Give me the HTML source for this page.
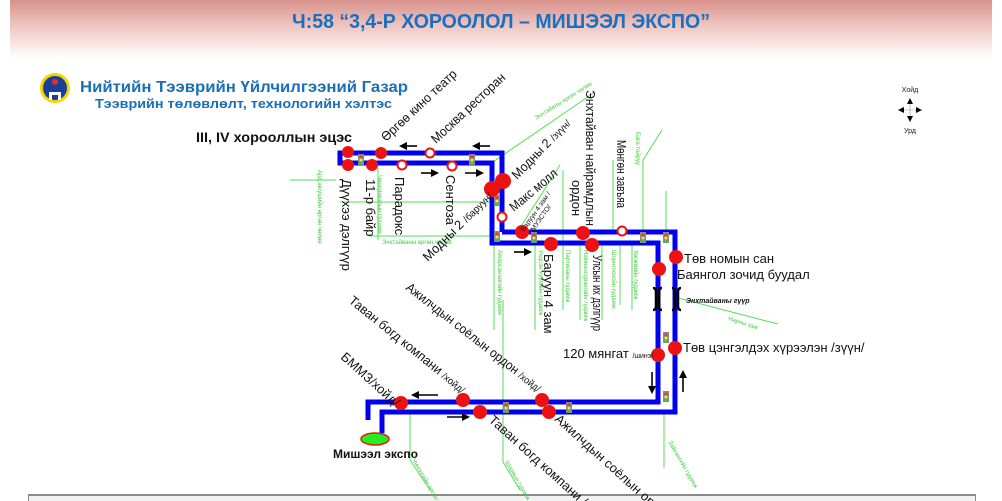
<!DOCTYPE html>
<html><head><meta charset="utf-8"><style>
html,body{margin:0;padding:0;background:#fff;}
svg{display:block;}
text{font-family:"Liberation Sans","DejaVu Sans",sans-serif;}
</style></head><body>
<svg width="1002" height="501" viewBox="0 0 1002 501" xmlns="http://www.w3.org/2000/svg">
<defs>
<linearGradient id="hg" x1="0" y1="0" x2="0" y2="1">
<stop offset="0" stop-color="#d8928c"/><stop offset="0.45" stop-color="#eec6c2"/><stop offset="1" stop-color="#ffffff"/>
</linearGradient>
<marker id="ah" markerWidth="8" markerHeight="8" refX="6" refY="4" orient="auto" markerUnits="userSpaceOnUse"><path d="M0,0 L8,4 L0,8 z" fill="#000"/></marker>
</defs>
<rect x="10" y="0" width="982" height="58" fill="url(#hg)"/>
<text x="501" y="28" text-anchor="middle" font-size="20" font-weight="bold" fill="#1a6fc0" textLength="418" lengthAdjust="spacingAndGlyphs">Ч:58 “3,4-Р ХОРООЛОЛ – МИШЭЭЛ ЭКСПО”</text>
<rect x="28" y="494" width="948" height="7" fill="#8a8a8a"/>
<rect x="29" y="496" width="946" height="5" fill="#f2f2f2"/>

<circle cx="55" cy="88" r="15" fill="#f4d400"/>
<circle cx="55" cy="88" r="12" fill="#1a3f9a"/>
<path d="M49,92 h12 v8 h-3 v-5 h-6 v5 h-3z" fill="#fff"/>
<circle cx="55" cy="82" r="3" fill="#e03030"/>
<text x="80" y="92" font-size="15.5" font-weight="bold" fill="#1a6fb5" textLength="328" lengthAdjust="spacingAndGlyphs">Нийтийн Тээврийн Үйлчилгээний Газар</text>
<text x="95" y="108" font-size="13" font-weight="bold" fill="#1a6fb5" textLength="297" lengthAdjust="spacingAndGlyphs">Тээврийн төлөвлөлт, технологийн хэлтэс</text>
<text x="196" y="142" font-size="14" font-weight="bold" fill="#111" textLength="156" lengthAdjust="spacingAndGlyphs">III, IV хорооллын эцэс</text>

<text x="910" y="92" font-size="7" text-anchor="middle" fill="#222">Хойд</text>
<text x="910" y="133" font-size="7" text-anchor="middle" fill="#222">Урд</text>
<line x1="910" y1="98" x2="910" y2="122" stroke="#999" stroke-width="0.6"/>
<line x1="898" y1="110" x2="922" y2="110" stroke="#999" stroke-width="0.6"/>
<path d="M910,98 l-3,6 h6z M910,122 l-3,-6 h6z M898,110 l6,-3 v6z M922,110 l-6,-3 v6z" fill="#000"/>

<g stroke="#55dd55" stroke-width="1" fill="none">
<line x1="290" y1="180" x2="336" y2="180"/>
<line x1="378" y1="168" x2="378" y2="240"/>
<line x1="340" y1="202" x2="492" y2="202"/>
<line x1="370" y1="236" x2="492" y2="236"/>
<line x1="490" y1="164" x2="595" y2="92"/>
<line x1="494" y1="245" x2="494" y2="330"/>
<line x1="535" y1="245" x2="535" y2="330"/>
<line x1="520" y1="228" x2="560" y2="165"/>
<line x1="563" y1="170" x2="563" y2="310"/>
<line x1="580" y1="245" x2="580" y2="320"/>
<line x1="602" y1="245" x2="602" y2="320"/>
<line x1="613" y1="160" x2="613" y2="232"/>
<line x1="620" y1="245" x2="620" y2="305"/>
<line x1="643" y1="160" x2="643" y2="232"/>
<line x1="643" y1="160" x2="662" y2="130"/>
<line x1="632" y1="245" x2="632" y2="310"/>
<line x1="666" y1="191" x2="666" y2="232"/>
<line x1="678" y1="298" x2="778" y2="324"/>
<line x1="410" y1="413" x2="410" y2="460"/>
<line x1="410" y1="460" x2="430" y2="490"/>
<line x1="503" y1="300" x2="503" y2="462"/>
<line x1="503" y1="462" x2="520" y2="490"/>
<line x1="664" y1="413" x2="664" y2="468"/>
</g>
<g font-size="6" fill="#44cc44">
<text transform="translate(318,170) rotate(90)">Ард аюушийн өргөн чөлөө</text>
<text transform="translate(378,175) rotate(90)">Чингүнжавын гудамж</text>
<text x="382" y="244">Энхтайваны өргөн чөлөө</text>
<text transform="translate(536,120) rotate(-32)">Энхтайвны өргөн чөлөө</text>
<text transform="translate(498,250) rotate(90)">Амарсанаагийн гудамж</text>
<text transform="translate(539,250) rotate(90)">Үндсэн хуулийн гудамж</text>
<text transform="translate(566,250) rotate(90)">Партизаны гудамж</text>
<text transform="translate(584,250) rotate(90)">Намнансүрэнгийн гудамж</text>
<text transform="translate(612,250) rotate(90)">Шорнгоохойн гудамж</text>
<text transform="translate(634,250) rotate(90)">Хөгжмийн гудамж</text>
<text transform="translate(636,132) rotate(90)">Бага тойруу</text>
<text transform="translate(728,320) rotate(18)">Нарны зам</text>
<text transform="translate(412,460) rotate(60)">Чингисийн өргөн чөлөө</text>
<text transform="translate(505,462) rotate(60)">Шарвын гудамж</text>
<text transform="translate(668,442) rotate(60)">Зайсангийн гудамж</text>
</g>

<g stroke="#0000ee" stroke-width="5" fill="none" stroke-linejoin="miter">
<path d="M502,232 V153 H340 V163 H492 V243 H658 V402 H368 V420"/>
<path d="M502,232 H675 V412 H382 V433"/>
</g>

<g stroke="#000" stroke-width="2.5" fill="none">
<path d="M653,288 q3,0 3,4 v14 q0,4 -3,4"/>
<path d="M662,288 q-3,0 -3,4 v14 q0,4 3,4"/>
<path d="M672,288 q3,0 3,4 v14 q0,4 -3,4"/>
<path d="M681,288 q-3,0 -3,4 v14 q0,4 3,4"/>
</g>

<g stroke="#000" stroke-width="1.6" marker-end="url(#ah)">
<line x1="417" y1="146" x2="401" y2="146"/>
<line x1="490" y1="146" x2="474" y2="146"/>
<line x1="421" y1="173" x2="437" y2="173"/>
<line x1="465" y1="173" x2="482" y2="173"/>
<line x1="514" y1="252" x2="530" y2="252"/>
<line x1="438" y1="395" x2="413" y2="395"/>
<line x1="447" y1="417" x2="468" y2="417"/>
<line x1="652" y1="372" x2="652" y2="392"/>
<line x1="683" y1="392" x2="683" y2="372"/>
</g>

<g>
<g transform="translate(358,154)"><rect width="6" height="11" fill="#888"/><circle cx="3" cy="3" r="1.5" fill="#e33"/><circle cx="3" cy="6" r="1.5" fill="#ee3"/><circle cx="3" cy="9" r="1.5" fill="#3c3"/></g>
<g transform="translate(469,154)"><rect width="6" height="11" fill="#888"/><circle cx="3" cy="3" r="1.5" fill="#e33"/><circle cx="3" cy="6" r="1.5" fill="#ee3"/><circle cx="3" cy="9" r="1.5" fill="#3c3"/></g>
<g transform="translate(494,195)"><rect width="6" height="11" fill="#888"/><circle cx="3" cy="3" r="1.5" fill="#e33"/><circle cx="3" cy="6" r="1.5" fill="#ee3"/><circle cx="3" cy="9" r="1.5" fill="#3c3"/></g>
<g transform="translate(494,231)"><rect width="6" height="11" fill="#888"/><circle cx="3" cy="3" r="1.5" fill="#e33"/><circle cx="3" cy="6" r="1.5" fill="#ee3"/><circle cx="3" cy="9" r="1.5" fill="#3c3"/></g>
<g transform="translate(531,232)"><rect width="6" height="11" fill="#888"/><circle cx="3" cy="3" r="1.5" fill="#e33"/><circle cx="3" cy="6" r="1.5" fill="#ee3"/><circle cx="3" cy="9" r="1.5" fill="#3c3"/></g>
<g transform="translate(640,232)"><rect width="6" height="11" fill="#888"/><circle cx="3" cy="3" r="1.5" fill="#e33"/><circle cx="3" cy="6" r="1.5" fill="#ee3"/><circle cx="3" cy="9" r="1.5" fill="#3c3"/></g>
<g transform="translate(663,232)"><rect width="6" height="11" fill="#888"/><circle cx="3" cy="3" r="1.5" fill="#e33"/><circle cx="3" cy="6" r="1.5" fill="#ee3"/><circle cx="3" cy="9" r="1.5" fill="#3c3"/></g>
<g transform="translate(663,332)"><rect width="6" height="11" fill="#888"/><circle cx="3" cy="3" r="1.5" fill="#e33"/><circle cx="3" cy="6" r="1.5" fill="#ee3"/><circle cx="3" cy="9" r="1.5" fill="#3c3"/></g>
<g transform="translate(663,391)"><rect width="6" height="11" fill="#888"/><circle cx="3" cy="3" r="1.5" fill="#e33"/><circle cx="3" cy="6" r="1.5" fill="#ee3"/><circle cx="3" cy="9" r="1.5" fill="#3c3"/></g>
<g transform="translate(503,402)"><rect width="6" height="11" fill="#888"/><circle cx="3" cy="3" r="1.5" fill="#e33"/><circle cx="3" cy="6" r="1.5" fill="#ee3"/><circle cx="3" cy="9" r="1.5" fill="#3c3"/></g>
<g transform="translate(566,402)"><rect width="6" height="11" fill="#888"/><circle cx="3" cy="3" r="1.5" fill="#e33"/><circle cx="3" cy="6" r="1.5" fill="#ee3"/><circle cx="3" cy="9" r="1.5" fill="#3c3"/></g>
</g>

<g fill="#ee1111">
<circle cx="348" cy="152" r="6"/><circle cx="348" cy="165" r="6"/><circle cx="372" cy="165" r="6"/><circle cx="381" cy="153" r="6"/>
<circle cx="492" cy="189" r="8"/><circle cx="503" cy="181" r="8"/>
<circle cx="522" cy="232" r="7"/><circle cx="551" cy="244" r="7"/><circle cx="583" cy="233" r="7"/><circle cx="592" cy="245" r="7"/>
<circle cx="659" cy="269" r="7"/><circle cx="676" cy="257" r="7"/>
<circle cx="658" cy="355" r="7"/><circle cx="675" cy="348" r="7"/>
<circle cx="401" cy="403" r="7"/><circle cx="463" cy="400" r="7"/><circle cx="480" cy="412" r="7"/><circle cx="542" cy="400" r="7"/><circle cx="549" cy="412" r="7"/>
</g>
<g fill="#fff" stroke="#ee1111" stroke-width="2">
<circle cx="430" cy="153" r="4.5"/><circle cx="402" cy="165" r="4.5"/><circle cx="452" cy="166" r="4.5"/><circle cx="502" cy="217" r="4.5"/><circle cx="622" cy="231" r="4.5"/>
</g>
<ellipse cx="375" cy="439" rx="14" ry="6" fill="#22ee22" stroke="#ee1111" stroke-width="1.5"/>
<text x="333" y="458" font-size="12" font-weight="bold" fill="#111">Мишээл экспо</text>

<g font-size="13" fill="#111">
<text transform="translate(342,179) rotate(90)">Дүүхээ дэлгүүр</text>
<text transform="translate(366,179) rotate(90)">11-р байр</text>
<text transform="translate(395,177) rotate(90)">Парадокс</text>
<text transform="translate(446,175) rotate(90)">Сентоза</text>
<text transform="translate(544,254) rotate(90)">Баруун 4 зам</text>
<text transform="translate(593,255) rotate(90)" textLength="76" lengthAdjust="spacingAndGlyphs">Улсын их дэлгүүр</text>
<text transform="translate(586,90) rotate(90)" textLength="136" lengthAdjust="spacingAndGlyphs">Энхтайван найрамдлын</text>
<text transform="translate(572,180) rotate(90)">ордон</text>
<text transform="translate(617,140) rotate(90)" textLength="68" lengthAdjust="spacingAndGlyphs">Мөнгөн завъяа</text>
<text transform="translate(386,142) rotate(-43)" textLength="98" lengthAdjust="spacingAndGlyphs">Өргөө кино театр</text>
<text transform="translate(436,144) rotate(-43)" textLength="96" lengthAdjust="spacingAndGlyphs">Москва ресторан</text>
<text transform="translate(517,180) rotate(-46)" textLength="78" lengthAdjust="spacingAndGlyphs">Модны 2 <tspan font-size="10">/зүүн/</tspan></text>
<text transform="translate(514,212) rotate(-40)" textLength="58" lengthAdjust="spacingAndGlyphs">Макс молл</text>
<text transform="translate(428,262) rotate(-45)" textLength="92" lengthAdjust="spacingAndGlyphs">Модны 2 <tspan font-size="10">/баруун/</tspan></text>
<text transform="translate(348,302) rotate(39)" textLength="146" lengthAdjust="spacingAndGlyphs">Таван богд компани <tspan font-size="10">/хойд/</tspan></text>
<text transform="translate(405,289) rotate(38)" textLength="168" lengthAdjust="spacingAndGlyphs">Ажилчдын соёлын ордон <tspan font-size="10">/хойд/</tspan></text>
<text transform="translate(340,358) rotate(42)">БММЗ/хойд/</text>
<text transform="translate(488,421) rotate(42)">Таван богд компани /у</text>
<text transform="translate(554,420) rotate(42)">Ажилчдын соёлын ордо</text>
<text x="684" y="263">Төв номын сан</text>
<text x="677" y="279">Баянгол зочид буудал</text>
<text x="683" y="352">Төв цэнгэлдэх хүрээлэн /зүүн/</text>
<text x="563" y="358">120 мянгат <tspan font-size="7">/шинэ/</tspan></text>
</g>
<text transform="translate(524,232) rotate(-55)" font-size="7" fill="#111">Баруун 4 зам /<tspan x="6" dy="8">МУЗСТО/</tspan></text>
<text x="686" y="303" font-size="7" font-weight="bold" font-style="italic" fill="#111">Энхтайваны гүүр</text>
</svg>
</body></html>
